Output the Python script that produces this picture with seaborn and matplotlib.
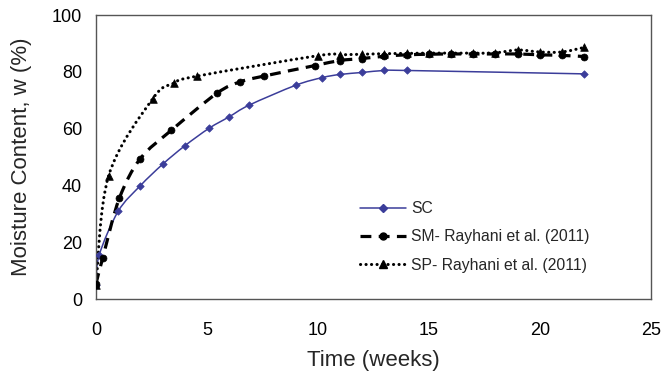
import numpy as np
import pandas as pd
import matplotlib
matplotlib.use("Agg")
import matplotlib.pyplot as plt
from matplotlib.ticker import MultipleLocator
from matplotlib.path import Path
from matplotlib.patches import PathPatch
from matplotlib.lines import Line2D
import seaborn as sns

# Measured moisture content over time
sc_weeks = [0, 0.14, 1, 2, 3, 4, 5.1, 6, 6.9, 9, 10.2, 11, 12, 13, 14, 22]
sc_moisture = [5, 15.5, 31, 40, 47.5, 54, 60.2, 64.2, 68.3, 75.3, 78, 79.1, 79.8, 80.5, 80.5, 79.3]

sm_weeks = [0, 0.3, 1.05, 2.0, 3.4, 5.45, 6.5, 7.55, 9.85, 11, 12, 13, 14,
            15, 16, 17, 18, 19, 20, 21, 22]
sm_moisture = [5.5, 14.5, 35.5, 49.5, 59.5, 72.5, 76.5, 78.5, 82.2, 84.0, 84.7, 85.5, 86.0,
               86.2, 86.3, 86.3, 86.3, 86.3, 86.0, 85.8, 85.4]

sp_weeks = [0, 0.57, 2.55, 3.5, 4.55, 10.0, 11, 12, 13, 14, 15, 16, 17, 18, 19, 20, 21, 22]
sp_moisture = [5, 43.5, 70.5, 76, 78.5, 85.7, 86.0, 86.2, 86.4, 86.5, 86.6, 86.6, 86.6,
               86.7, 87.7, 87.0, 87.0, 88.6]

series_labels = ["SC", "SM- Rayhani et al. (2011)", "SP- Rayhani et al. (2011)"]

frames = []
for lab, xs, ys in zip(series_labels,
                       [sc_weeks, sm_weeks, sp_weeks],
                       [sc_moisture, sm_moisture, sp_moisture]):
    frames.append(pd.DataFrame({"Time": xs, "Moisture": ys, "Series": lab}))
df = pd.concat(frames, ignore_index=True)


def smooth_path(xs, ys):
    """Cubic Bezier path through the points (Catmull-Rom style smoothing)."""
    p = np.column_stack([xs, ys]).astype(float)
    n = len(p)
    verts = [p[0]]
    codes = [Path.MOVETO]
    for i in range(n - 1):
        p0 = p[i - 1] if i > 0 else p[i]
        p1, p2 = p[i], p[i + 1]
        p3 = p[i + 2] if i + 2 < n else p[i + 1]
        c1 = p1 + (p2 - p0) / 6.0
        c2 = p2 - (p3 - p1) / 6.0
        verts += [c1, c2, p2]
        codes += [Path.CURVE4] * 3
    return Path(np.array(verts), codes)


sns.set_theme(style="white")
plt.rcParams["font.family"] = ["Liberation Sans", "DejaVu Sans"]

fig = plt.figure(figsize=(6.62, 3.75), dpi=100)
ax = fig.add_axes([0.145, 0.2015, 0.838, 0.7585])

styles = {
    series_labels[0]: dict(color="#3b3d9a", lw=1.1, ls="-", marker="D", ms=3.8, cap="butt"),
    series_labels[1]: dict(color="black", lw=2.3, ls=(0, (3.4, 2.3)), marker="o", ms=5.0, cap="butt"),
    series_labels[2]: dict(color="black", lw=2.2, ls=(0, (0.05, 1.75)), marker="^", ms=5.5, cap="round"),
}

handles = []
for lab in series_labels:
    st = styles[lab]
    sub = df[df["Series"] == lab]
    # smoothed connecting line
    patch = PathPatch(smooth_path(sub["Time"].values, sub["Moisture"].values),
                      facecolor="none", edgecolor=st["color"], linewidth=st["lw"],
                      linestyle=st["ls"], capstyle=st["cap"], zorder=2)
    ax.add_patch(patch)
    # data markers
    sns.scatterplot(data=sub, x="Time", y="Moisture", ax=ax, marker=st["marker"],
                    s=st["ms"] ** 2, color=st["color"], edgecolor=st["color"],
                    linewidth=0.5, zorder=3, legend=False)
    handles.append(Line2D([], [], color=st["color"], linewidth=st["lw"], linestyle=st["ls"],
                          dash_capstyle=st["cap"], marker=st["marker"], markersize=st["ms"],
                          markerfacecolor=st["color"], markeredgecolor=st["color"]))

ax.set_xlim(0, 25)
ax.set_ylim(0, 100)
ax.xaxis.set_major_locator(MultipleLocator(5))
ax.xaxis.set_minor_locator(MultipleLocator(1))
ax.yaxis.set_major_locator(MultipleLocator(20))
ax.yaxis.set_minor_locator(MultipleLocator(4))
ax.tick_params(axis="both", which="both", direction="in", color="#444444", width=0.9,
               labelsize=13, labelcolor="black")
ax.tick_params(axis="both", which="major", length=5)
ax.tick_params(axis="both", which="minor", length=4)
ax.tick_params(axis="x", which="major", pad=16)
ax.tick_params(axis="y", which="major", pad=10)
ax.tick_params(top=False, right=False, which="both")

for sp in ax.spines.values():
    sp.set_visible(True)
    sp.set_color("#555555")
    sp.set_linewidth(1.0)

ax.set_xlabel("Time (weeks)", fontsize=16, labelpad=8.5)
ax.set_ylabel("Moisture Content, w (%)", fontsize=16, labelpad=14)

leg = ax.legend(handles, series_labels, loc="center left", bbox_to_anchor=(0.476, 0.22),
                frameon=False, fontsize=11.3, handlelength=2.9, handletextpad=0.35,
                labelspacing=0.85, borderpad=0, borderaxespad=0)

fig.savefig("out.png", dpi=100, facecolor="white")
